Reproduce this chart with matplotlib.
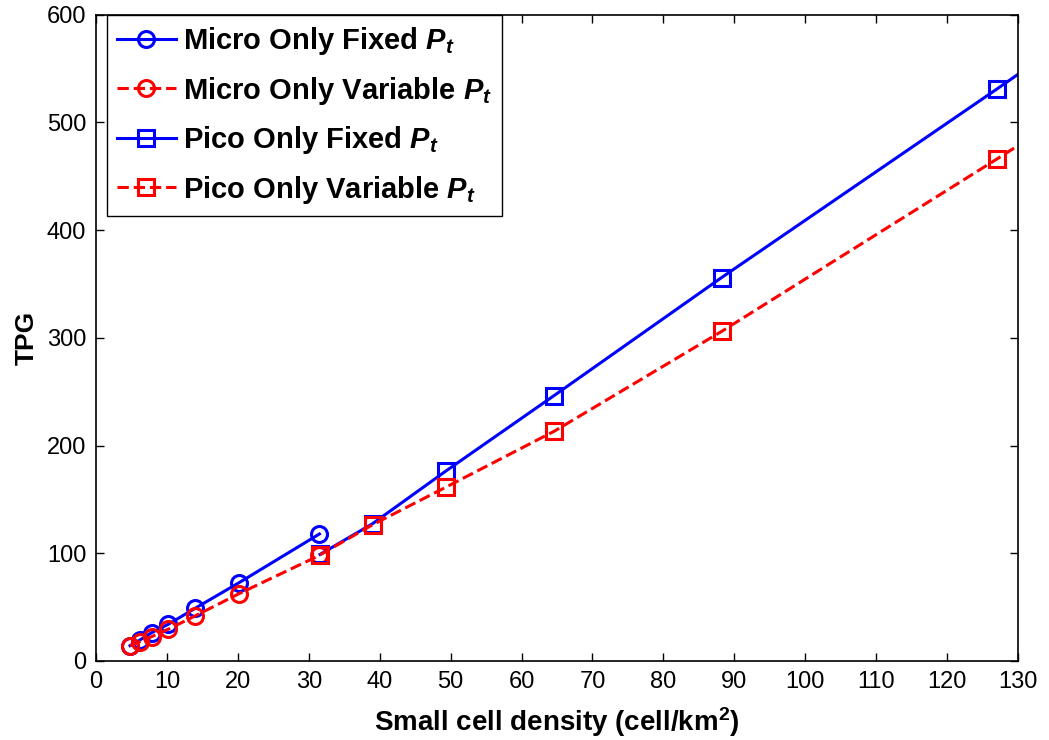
import numpy as np
from matplotlib import pyplot as plt

plt.rcParams['font.family'] = ['Liberation Sans', 'DejaVu Sans']
plt.rcParams['mathtext.fontset'] = 'custom'
plt.rcParams['mathtext.bfit'] = 'Liberation Sans:italic:bold'
plt.rcParams['mathtext.it'] = 'Liberation Sans:italic'
plt.rcParams['mathtext.rm'] = 'Liberation Sans'
plt.rcParams['mathtext.bf'] = 'Liberation Sans:bold'

# micro cells
micro_density = [4.8, 6.2, 7.85, 10.2, 14.0, 20.2, 31.5]
micro_fixed = [14.2, 19.5, 26.3, 34.1, 49.0, 72.8, 117.9]
micro_variable = [14.2, 18.0, 22.6, 29.5, 41.9, 62.6, 98.0]

# pico cells (last point lies outside the shown x range)
pico_density = [31.6, 39.0, 49.4, 64.6, 88.2, 127.0, 190.0]
pico_fixed = [99.0, 127.5, 176.7, 246.5, 356.0, 531.0, 820.0]
pico_variable = [98.6, 126.5, 161.6, 213.3, 306.0, 466.0, 730.0]

labels = [r'Micro Only Fixed $\mathbfit{P_t}$',
          r'Micro Only Variable $\mathbfit{P_t}$',
          r'Pico Only Fixed $\mathbfit{P_t}$',
          r'Pico Only Variable $\mathbfit{P_t}$']

fig = plt.figure(figsize=(10.49, 7.40), dpi=100)
ax = fig.add_axes([0.0915, 0.1068, 0.879, 0.8732])

ax.plot(micro_density, micro_fixed, '-o', color='blue', lw=2.2, ms=11.5, mew=2.2,
        mfc='none', label=labels[0])
ax.plot(micro_density, micro_variable, '--o', color='red', lw=2.2, ms=11.5, mew=2.2,
        mfc='none', label=labels[1])
ax.plot(pico_density, pico_fixed, '-s', color='blue', lw=2.2, ms=12, mew=2.2,
        mfc='none', label=labels[2])
ax.plot(pico_density, pico_variable, '--s', color='red', lw=2.2, ms=12, mew=2.2,
        mfc='none', label=labels[3])

ax.set_xlim(0, 130)
ax.set_ylim(0, 600)
ax.set_xticks(np.arange(0, 131, 10))
ax.set_yticks(np.arange(0, 601, 100))
ax.tick_params(direction='in', length=6, width=1, top=True, right=True,
               labelsize=17, pad=7)
for s in ax.spines.values():
    s.set_linewidth(1.2)

ax.set_xlabel(r'Small cell density (cell/km$^{\mathbf{2}}$)', fontsize=20,
              fontweight='bold', labelpad=9)
ax.set_ylabel('TPG', fontsize=19, fontweight='bold', labelpad=6)

leg = ax.legend(loc='upper left', bbox_to_anchor=(0.012, 1.0),
                prop={'weight': 'bold', 'size': 21}, handlelength=2.0,
                fancybox=False, edgecolor='black', framealpha=1,
                borderaxespad=0, labelspacing=0.6, handletextpad=0.25,
                borderpad=0.35)
leg.get_frame().set_linewidth(1.0)

plt.savefig('out.png', dpi=100)
